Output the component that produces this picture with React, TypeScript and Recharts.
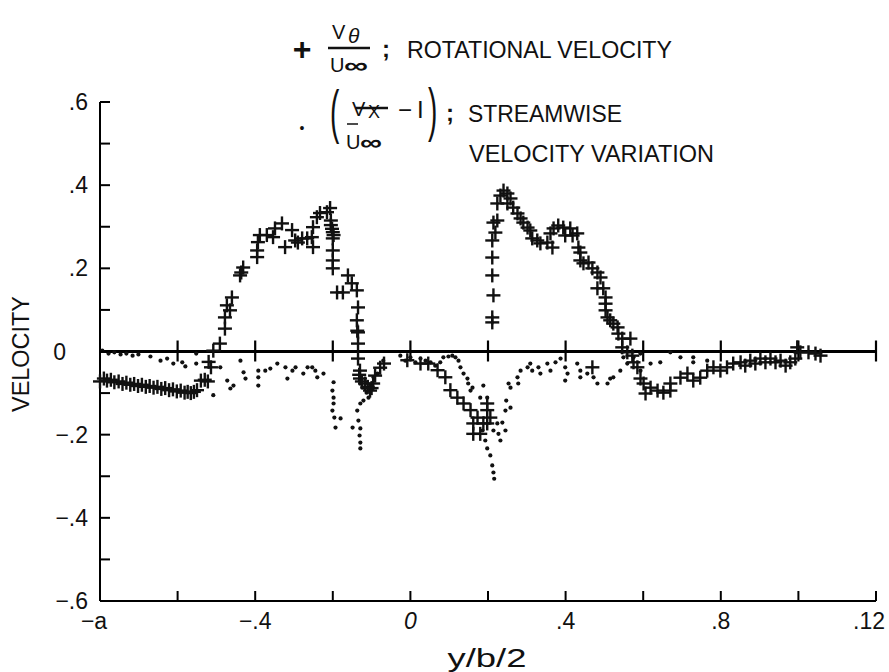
import { ReferenceLine, Scatter, ScatterChart, XAxis, YAxis } from 'recharts';

// Vθ/U∞ — rotational velocity ("+" markers) as [y/b/2, value]
const ROTATIONAL: [number, number][] = [
    [-0.800, -0.072], [-0.790, -0.065], [-0.782, -0.070], [-0.772, -0.068], [-0.763, -0.074], [-0.752, -0.072],
    [-0.742, -0.078], [-0.732, -0.075], [-0.722, -0.080], [-0.712, -0.078], [-0.702, -0.083], [-0.692, -0.080],
    [-0.682, -0.085], [-0.672, -0.083], [-0.662, -0.087], [-0.652, -0.085], [-0.642, -0.090], [-0.632, -0.088],
    [-0.622, -0.093], [-0.612, -0.091], [-0.602, -0.096], [-0.592, -0.094], [-0.582, -0.099], [-0.574, -0.097],
    [-0.566, -0.100], [-0.558, -0.097], [-0.550, -0.093],
    [-0.540, -0.070], [-0.530, -0.068], [-0.522, -0.072], [-0.520, -0.025], [-0.514, -0.038], [-0.508, 0.002],
    [-0.491, 0.019], [-0.478, 0.055], [-0.478, 0.082], [-0.473, 0.111], [-0.465, 0.099], [-0.460, 0.130],
    [-0.439, 0.183], [-0.436, 0.190], [-0.431, 0.202], [-0.395, 0.227], [-0.395, 0.243], [-0.393, 0.263],
    [-0.388, 0.280], [-0.370, 0.280], [-0.354, 0.275], [-0.349, 0.296], [-0.331, 0.308], [-0.323, 0.251],
    [-0.305, 0.292], [-0.297, 0.267], [-0.290, 0.262], [-0.279, 0.272], [-0.266, 0.272], [-0.254, 0.275],
    [-0.251, 0.251], [-0.251, 0.299], [-0.241, 0.323], [-0.233, 0.333], [-0.215, 0.335], [-0.207, 0.345],
    [-0.205, 0.315], [-0.205, 0.304], [-0.202, 0.295], [-0.200, 0.287], [-0.198, 0.280], [-0.200, 0.272],
    [-0.200, 0.243], [-0.200, 0.219], [-0.200, 0.200],
    [-0.189, 0.142], [-0.174, 0.142], [-0.161, 0.183], [-0.151, 0.164], [-0.138, 0.147], [-0.135, 0.106],
    [-0.138, 0.075], [-0.135, 0.046], [-0.137, 0.050], [-0.135, 0.019], [-0.135, -0.017], [-0.130, -0.046],
    [-0.132, -0.056], [-0.130, -0.065], [-0.125, -0.072], [-0.117, -0.077], [-0.110, -0.085], [-0.104, -0.094],
    [-0.100, -0.088], [-0.096, -0.077], [-0.091, -0.058], [-0.078, -0.039], [-0.068, -0.029],
    [-0.008, -0.021], [0.026, -0.029], [0.046, -0.029], [0.070, -0.045], [0.090, -0.062], [0.103, -0.093],
    [0.121, -0.111], [0.137, -0.125], [0.155, -0.141], [0.173, -0.159], [0.162, -0.173], [0.180, -0.198],
    [0.162, -0.198], [0.198, -0.173], [0.198, -0.141], [0.198, -0.125], [0.206, -0.159], [0.188, -0.173],
    [0.211, 0.070], [0.211, 0.082], [0.214, 0.135], [0.211, 0.183], [0.211, 0.226], [0.211, 0.267],
    [0.219, 0.286], [0.214, 0.310], [0.224, 0.315], [0.224, 0.356], [0.232, 0.375], [0.240, 0.387],
    [0.250, 0.380], [0.258, 0.368], [0.250, 0.356], [0.265, 0.346], [0.276, 0.332], [0.284, 0.320],
    [0.291, 0.310], [0.302, 0.298], [0.309, 0.291], [0.314, 0.272], [0.327, 0.267], [0.335, 0.260],
    [0.353, 0.262], [0.366, 0.250], [0.361, 0.284], [0.369, 0.296], [0.381, 0.303], [0.394, 0.298],
    [0.399, 0.279], [0.412, 0.296], [0.418, 0.279], [0.430, 0.284], [0.433, 0.250], [0.438, 0.238],
    [0.438, 0.219], [0.446, 0.212], [0.459, 0.214], [0.469, 0.200], [0.482, 0.190], [0.490, 0.178],
    [0.482, 0.152], [0.497, 0.152], [0.503, 0.130], [0.503, 0.115], [0.503, 0.099], [0.508, 0.082],
    [0.515, 0.075], [0.523, 0.067], [0.534, 0.058], [0.536, 0.043], [0.546, 0.031], [0.567, 0.031],
    [0.546, 0.010], [0.559, -0.002], [0.572, -0.010], [0.575, -0.026], [0.585, -0.038], [0.593, -0.065],
    [0.601, -0.077], [0.606, -0.101], [0.619, -0.087], [0.637, -0.094], [0.652, -0.099], [0.670, -0.077],
    [0.670, -0.094], [0.696, -0.063], [0.714, -0.053], [0.729, -0.070], [0.747, -0.063], [0.765, -0.046],
    [0.781, -0.038], [0.799, -0.046], [0.816, -0.038], [0.832, -0.029],
    [0.851, -0.026], [0.863, -0.034], [0.876, -0.022], [0.889, -0.029], [0.902, -0.017], [0.915, -0.026],
    [0.928, -0.017], [0.941, -0.026], [0.954, -0.022], [0.967, -0.034], [0.979, -0.026], [0.992, -0.017],
    [0.997, 0.010], [1.005, -0.002], [1.026, -0.002], [1.044, -0.005], [1.057, -0.010],
    [0.469, -0.038],
];

// (Vx/U∞ − 1) — streamwise velocity variation (dots)
const STREAMWISE: [number, number][] = [
    [-0.794, 0.002], [-0.778, -0.005], [-0.763, -0.002], [-0.747, -0.007], [-0.732, -0.005], [-0.716, -0.010],
    [-0.701, -0.007], [-0.670, -0.012], [-0.644, -0.022], [-0.627, -0.017], [-0.611, -0.029], [-0.588, -0.026],
    [-0.580, -0.036], [-0.552, -0.005], [-0.552, -0.029], [-0.508, -0.105], [-0.490, -0.038], [-0.472, -0.070],
    [-0.464, -0.089], [-0.456, -0.082], [-0.438, -0.022], [-0.430, -0.050], [-0.425, -0.065], [-0.392, -0.046],
    [-0.392, -0.062], [-0.392, -0.082], [-0.374, -0.046], [-0.361, -0.041], [-0.343, -0.029], [-0.322, -0.038],
    [-0.317, -0.065], [-0.304, -0.046], [-0.296, -0.038], [-0.276, -0.053], [-0.265, -0.038], [-0.253, -0.038],
    [-0.245, -0.046], [-0.240, -0.062], [-0.224, -0.053],
    [-0.198, -0.074], [-0.201, -0.094], [-0.198, -0.111], [-0.198, -0.125], [-0.201, -0.142], [-0.196, -0.159],
    [-0.193, -0.183], [-0.180, -0.161],
    [-0.149, -0.183], [-0.137, -0.142], [-0.134, -0.166], [-0.129, -0.185], [-0.131, -0.202], [-0.129, -0.219],
    [-0.129, -0.233], [-0.129, -0.125], [-0.121, -0.118], [-0.124, -0.087], [-0.113, -0.099], [-0.108, -0.111],
    [-0.095, -0.062], [-0.085, -0.053], [-0.070, -0.022],
    [-0.026, -0.010], [-0.013, -0.022], [0.000, -0.014], [0.013, -0.026], [0.026, -0.017], [0.039, -0.022],
    [0.052, -0.026], [0.064, -0.034], [0.077, -0.026], [0.085, -0.014], [0.098, -0.012], [0.108, -0.010],
    [0.116, -0.014], [0.124, -0.022], [0.129, -0.038], [0.137, -0.053], [0.147, -0.065], [0.149, -0.077],
    [0.155, -0.094], [0.160, -0.087], [0.180, -0.111], [0.188, -0.082], [0.198, -0.111], [0.186, -0.190],
    [0.193, -0.214], [0.198, -0.233], [0.206, -0.250], [0.211, -0.274], [0.214, -0.291], [0.216, -0.306],
    [0.214, -0.190], [0.227, -0.198], [0.232, -0.214], [0.224, -0.173], [0.237, -0.171], [0.245, -0.190],
    [0.245, -0.142], [0.247, -0.118],
    [0.253, -0.077], [0.258, -0.087], [0.258, -0.135], [0.276, -0.062], [0.278, -0.077], [0.284, -0.046],
    [0.302, -0.038], [0.309, -0.029], [0.314, -0.046], [0.330, -0.038], [0.335, -0.053], [0.353, -0.029],
    [0.361, -0.046], [0.374, -0.026], [0.387, -0.017], [0.399, -0.038], [0.405, -0.053], [0.399, -0.070],
    [0.430, -0.029], [0.438, -0.046], [0.438, -0.062], [0.456, -0.053], [0.472, -0.062], [0.482, -0.077],
    [0.508, -0.077], [0.515, -0.065], [0.523, -0.062], [0.541, -0.046], [0.549, -0.014], [0.559, -0.029],
    [0.575, -0.014], [0.593, -0.005], [0.593, -0.046], [0.619, -0.029], [0.644, -0.026], [0.670, -0.002],
    [0.696, -0.014], [0.729, -0.014], [0.729, -0.026], [0.765, -0.022],
];

const X_TICKS = [-0.8, -0.6, -0.4, -0.2, 0, 0.2, 0.4, 0.6, 0.8, 1.0, 1.2];
const X_LABELS = ['−a', '', '−.4', '', '0', '', '.4', '', '.8', '', '.12'];
const Y_TICKS = [-0.6, -0.5, -0.4, -0.3, -0.2, -0.1, 0, 0.1, 0.2, 0.3, 0.4, 0.5, 0.6];
const Y_LABELS = ['−.6', '', '−.4', '', '−.2', '', '0', '', '.2', '', '.4', '', '.6'];
// tick marks drawn across the zero line
const ZERO_TICKS = [-0.6, -0.4, -0.2, 0, 0.2, 0.4, 0.6, 0.8, 1.0, 1.2];

const FONT = '"Liberation Sans", Arial, Helvetica, sans-serif';
const INK = '#111';

const rotData = ROTATIONAL.map(([x, y]) => ({ x, y }));
const streamData = STREAMWISE.map(([x, y]) => ({ x, y }));
const zeroTickData = ZERO_TICKS.map((x) => ({ x, y: 0 }));

function PlusMark({ cx, cy }: { cx?: number; cy?: number }) {
    if (cx == null || cy == null) return null;
    return (
        <g stroke={INK} strokeWidth={2.4}>
            <line x1={cx - 7} y1={cy} x2={cx + 7} y2={cy} />
            <line x1={cx} y1={cy - 7} x2={cx} y2={cy + 7} />
        </g>
    );
}

function DotMark({ cx, cy }: { cx?: number; cy?: number }) {
    if (cx == null || cy == null) return null;
    return <circle cx={cx} cy={cy} r={2.1} fill={INK} />;
}

function ZeroTick({ cx, cy }: { cx?: number; cy?: number }) {
    if (cx == null || cy == null) return null;
    return <line x1={cx} y1={cy - 11} x2={cx} y2={cy + 10} stroke="#000" strokeWidth={2.2} />;
}

function XTick({ x, y, index }: { x?: number; y?: number; index?: number }) {
    const i = index ?? 0;
    const label = X_LABELS[i];
    const last = i === X_LABELS.length - 1;
    // first and last labels are nudged inward, as in the original
    const lx = (x ?? 0) + (i === 0 ? -6 : last ? 9 : 0);
    return (
        <g>
            <line x1={x} y1={y} x2={x} y2={(y ?? 0) - 10} stroke="#000" strokeWidth={2} />
            {label && (
                <text
                    x={lx}
                    y={(y ?? 0) + 28}
                    textAnchor={last ? 'end' : 'middle'}
                    fontSize={23}
                    fontFamily={FONT}
                    fontStyle={label === '0' ? 'italic' : 'normal'}
                    fill={INK}
                >
                    {label}
                </text>
            )}
        </g>
    );
}

function YTick({ x, y, index }: { x?: number; y?: number; index?: number }) {
    const i = index ?? 0;
    const label = Y_LABELS[i];
    const gap = label === '0' ? 34 : 12;
    return (
        <g>
            <line x1={x} y1={y} x2={(x ?? 0) + 10} y2={y} stroke="#000" strokeWidth={2} />
            {label && (
                <text
                    x={(x ?? 0) - gap}
                    y={(y ?? 0) + 8}
                    textAnchor="end"
                    fontSize={23}
                    fontFamily={FONT}
                    fill={INK}
                >
                    {label}
                </text>
            )}
        </g>
    );
}

export default function App() {
    return (
        <div style={{ position: 'absolute', left: 0, top: 0, width: 889, height: 672, background: '#fff' }}>
            <ScatterChart width={889} height={672} margin={{ top: 102, right: 13, bottom: 0, left: 0 }}>
                <XAxis
                    dataKey="x"
                    type="number"
                    domain={[-0.8, 1.2]}
                    ticks={X_TICKS}
                    interval={0}
                    height={71}
                    tickSize={0}
                    tickMargin={0}
                    tickLine={false}
                    axisLine={{ stroke: '#000', strokeWidth: 2 }}
                    tick={<XTick />}
                />
                <YAxis
                    dataKey="y"
                    type="number"
                    domain={[-0.6, 0.6]}
                    ticks={Y_TICKS}
                    interval={0}
                    width={100}
                    tickSize={0}
                    tickMargin={0}
                    tickLine={false}
                    axisLine={{ stroke: '#000', strokeWidth: 2 }}
                    tick={<YTick />}
                />
                <ReferenceLine y={0} stroke="#000" strokeWidth={3} />
                <Scatter data={zeroTickData} shape={<ZeroTick />} isAnimationActive={false} />
                <Scatter data={streamData} shape={<DotMark />} isAnimationActive={false} />
                <Scatter data={rotData} shape={<PlusMark />} isAnimationActive={false} />
            </ScatterChart>

            {/* Legend, axis titles */}
            <svg
                width={889}
                height={672}
                style={{ position: 'absolute', left: 0, top: 0, pointerEvents: 'none' }}
                fontFamily={FONT}
                fill={INK}
            >
                <text x={302} y={60} fontSize={32} fontWeight="bold" textAnchor="middle">+</text>
                <text x={332} y={39} fontSize={20}>V</text>
                <text x={348} y={43} fontSize={21} fontStyle="italic">θ</text>
                <line x1={328} y1={48} x2={370} y2={48} stroke={INK} strokeWidth={2.5} />
                <text x={330} y={72} fontSize={20}>U</text>
                <text x={344} y={73} fontSize={22} fontWeight="bold" textLength={24} lengthAdjust="spacingAndGlyphs">∞</text>
                <text x={382} y={57} fontSize={24} fontWeight="bold">;</text>
                <text x={407} y={58} fontSize={23} textLength={265} lengthAdjust="spacingAndGlyphs">ROTATIONAL VELOCITY</text>

                <text x={302} y={133} fontSize={14} textAnchor="middle">•</text>
                <text transform="translate(330,132) scale(1,2.1)" fontSize={28}>(</text>
                <text x={352} y={116} fontSize={20}>V</text>
                <text x={368} y={118} fontSize={18}>X</text>
                <line x1={356} y1={108} x2={388} y2={108} stroke={INK} strokeWidth={2.5} />
                <line x1={347} y1={124} x2={358} y2={124} stroke={INK} strokeWidth={1.5} />
                <text x={346} y={149} fontSize={20}>U</text>
                <text x={360} y={150} fontSize={22} fontWeight="bold" textLength={22} lengthAdjust="spacingAndGlyphs">∞</text>
                <text x={398} y={118} fontSize={24}>−</text>
                <text x={417} y={118} fontSize={24}>I</text>
                <text transform="translate(428,130) scale(1,2.1)" fontSize={28}>)</text>
                <text x={446} y={121} fontSize={24} fontWeight="bold">;</text>
                <text x={468} y={122} fontSize={23} textLength={154} lengthAdjust="spacingAndGlyphs">STREAMWISE</text>
                <text x={469} y={162} fontSize={23} textLength={245} lengthAdjust="spacingAndGlyphs">VELOCITY VARIATION</text>

                <text
                    transform="translate(29,354) rotate(-90)"
                    textAnchor="middle"
                    fontSize={23}
                    textLength={116}
                    lengthAdjust="spacingAndGlyphs"
                >
                    VELOCITY
                </text>
                <text x={487} y={667} textAnchor="middle" fontSize={26} textLength={79} lengthAdjust="spacingAndGlyphs">y/b/2</text>
            </svg>
        </div>
    );
}
